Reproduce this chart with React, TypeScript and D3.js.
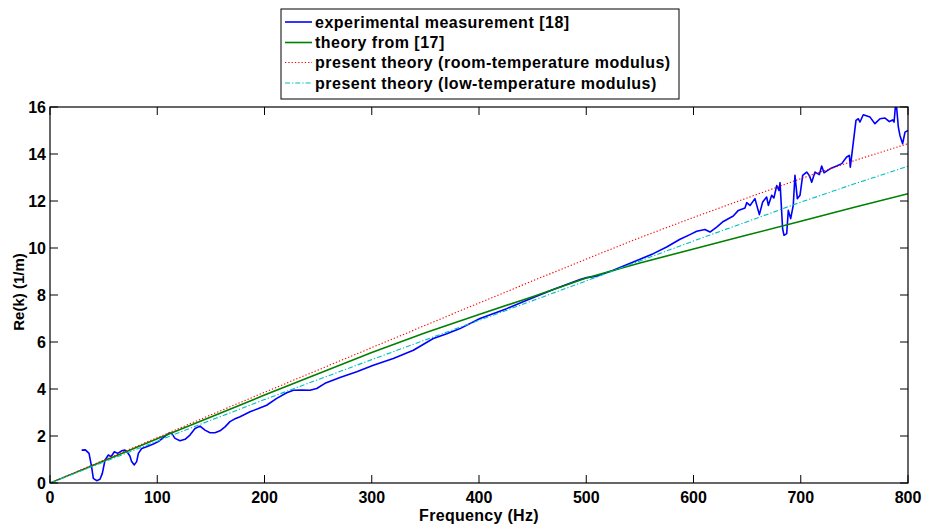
import React from "react";
import * as d3 from "d3";

// ---------- data ----------
const theoryFreq = [0, 50, 100, 150, 200, 250, 300, 350, 400, 450, 500, 550, 600, 650, 700, 750, 800];
const roomTheory = [0, 0.97, 1.93, 2.9, 3.86, 4.81, 5.76, 6.71, 7.66, 8.6, 9.53, 10.44, 11.3, 12.13, 12.95, 13.72, 14.44];
const lowTheory = [0, 0.89, 1.78, 2.67, 3.55, 4.4, 5.25, 6.09, 6.92, 7.76, 8.6, 9.45, 10.3, 11.12, 11.95, 12.73, 13.48];
const theory17 = [0, 0.94, 1.88, 2.81, 3.74, 4.65, 5.55, 6.39, 7.17, 7.93, 8.72, 9.36, 9.96, 10.55, 11.14, 11.73, 12.31];

const expFreq = [
  29.5, 33, 36.4, 38.8, 40.4, 43.5, 46.6, 48.8, 51.3, 54.4, 56.9, 60, 63.1, 66.8, 69.9, 72.4, 74.5, 76.1, 78.6, 80.8,
  82.4, 85.5, 90.1, 96.4, 101, 104.8, 108, 111.6, 113.4, 116.6, 121.2, 125.9, 130.5, 135.2, 139.9, 144.5, 149.2, 153.8,
  158.5, 163.2, 167.8, 172, 177.2, 186.5, 195, 202, 211.4, 220.7, 226.9, 235, 242.4, 248.7, 256.4, 270.4, 286, 301.5,
  320.1, 338.8, 357.4, 370, 382.3, 400.9, 425.8, 444.5, 469.3, 494.2, 500.4, 509.7, 525.2, 543.9, 562.5, 575, 587.4,
  596.7, 603, 610.7, 615.4, 621.6, 627.8, 637.1, 641.8, 648, 649.6, 652.7, 657.3, 661.4, 664.5, 668.2, 669.8, 672.9,
  675, 677.6, 679.7, 680.7, 683.1, 684.4, 686.9, 688.4, 690.6, 693, 694.6, 696.8, 699.3, 701.8, 705.5, 708, 710.2,
  713.3, 717.3, 719.5, 721.7, 727.3, 733.5, 738.2, 742.8, 745.3, 746.2, 751.5, 753.7, 755.2, 758.3, 764.6, 769.2,
  773.9, 778.6, 782.6, 785.7, 787, 788.8, 791, 792.5, 795, 797.2, 800,
];
const expK = [
  1.4, 1.41, 1.26, 0.69, 0.2, 0.1, 0.16, 0.41, 0.98, 1.19, 1.12, 1.33, 1.26, 1.37, 1.4, 1.29, 1.15, 0.91, 0.77, 0.91,
  1.26, 1.47, 1.54, 1.66, 1.76, 1.9, 2.02, 2.13, 2.11, 1.9, 1.8, 1.86, 2.04, 2.32, 2.42, 2.25, 2.14, 2.14,
  2.22, 2.39, 2.61, 2.72, 2.82, 3.03, 3.18, 3.31, 3.6, 3.84, 3.95, 3.96, 3.95, 4.02, 4.24, 4.49, 4.73, 5.01,
  5.3, 5.65, 6.15, 6.35, 6.57, 7.0, 7.42, 7.78, 8.23, 8.66, 8.74, 8.8, 9.05, 9.4, 9.76, 10.04, 10.37,
  10.57, 10.71, 10.79, 10.68, 10.89, 11.13, 11.36, 11.6, 11.7, 11.93, 11.81, 12.1, 11.42, 11.96, 12.17, 11.81, 12.24,
  12.13, 12.66, 12.45, 12.78, 10.82, 10.54, 10.61, 11.6, 11.25, 11.81, 13.09, 12.1, 12.24, 13.09, 13.23, 13.09, 12.8,
  13.23, 13.12, 13.49, 13.2, 13.37, 13.49, 13.59, 13.87, 13.94, 13.44, 15.43, 15.5, 15.36, 15.67, 15.57, 15.29,
  15.5, 15.53, 15.38, 15.45, 15.36, 16.3, 15.14, 14.79, 14.44, 14.93, 15.0,
];

const xTicks = [0, 100, 200, 300, 400, 500, 600, 700, 800];
const yTicks = [0, 2, 4, 6, 8, 10, 12, 14, 16];

const legendLabels = [
  "experimental measurement [18]",
  "theory from [17]",
  "present theory (room-temperature modulus)",
  "present theory (low-temperature modulus)",
];

// ---------- layout ----------
const W = 925;
const H = 528;
const left = 50;
const right = 908;
const top = 107;
const bottom = 483;
const font = "'Liberation Sans', Arial, Helvetica, sans-serif";

export default function App() {
  const x = d3.scaleLinear().domain([0, 800]).range([left, right]);
  const y = d3.scaleLinear().domain([0, 16]).range([bottom, top]);

  const line = d3
    .line<[number, number]>()
    .x((d) => x(d[0]))
    .y((d) => y(d[1]));

  const zip = (a: number[], b: number[]) => a.map((v, i) => [v, b[i]] as [number, number]);

  const series = [
    { d: zip(expFreq, expK), color: "#0000FF", w: 1.6, dash: undefined as string | undefined },
    { d: zip(theoryFreq, theory17), color: "#008000", w: 1.6, dash: undefined },
    { d: zip(theoryFreq, roomTheory), color: "#FF0000", w: 1.1, dash: "1.3 2" },
    { d: zip(theoryFreq, lowTheory), color: "#00BFBF", w: 1.1, dash: "5 2 1.3 2" },
  ];

  const tickLen = 8;
  const lx0 = 281, ly0 = 9, lx1 = 679, ly1 = 99;
  const rowY = [22, 42.5, 62.5, 83];

  return (
    <svg width={W} height={H} style={{ position: "absolute", left: 0, top: 0, background: "#fff" }}>
      <defs>
        <clipPath id="plot">
          <rect x={left} y={top} width={right - left} height={bottom - top} />
        </clipPath>
      </defs>
      <rect x={0} y={0} width={W} height={H} fill="#fff" />
      <g clipPath="url(#plot)">
        {series.map((s, i) => (
          <path key={i} d={line(s.d) || ""} fill="none" stroke={s.color} strokeWidth={s.w}
            strokeDasharray={s.dash} strokeLinejoin="round" />
        ))}
      </g>
      {/* axes box */}
      <rect x={left} y={top} width={right - left} height={bottom - top} fill="none" stroke="#000" strokeWidth={1.2} />
      {xTicks.map((t) => (
        <g key={"x" + t}>
          <line x1={x(t)} x2={x(t)} y1={bottom} y2={bottom - tickLen} stroke="#000" />
          <line x1={x(t)} x2={x(t)} y1={top} y2={top + tickLen} stroke="#000" />
          <text x={x(t)} y={503} textAnchor="middle" fontFamily={font} fontWeight="bold" fontSize={16}>{t}</text>
        </g>
      ))}
      {yTicks.map((t) => (
        <g key={"y" + t}>
          <line x1={left} x2={left + tickLen} y1={y(t)} y2={y(t)} stroke="#000" />
          <line x1={right} x2={right - tickLen} y1={y(t)} y2={y(t)} stroke="#000" />
          <text x={46} y={y(t) + 5.5} textAnchor="end" fontFamily={font} fontWeight="bold" fontSize={16}>{t}</text>
        </g>
      ))}
      <text x={479} y={521} textAnchor="middle" fontFamily={font} fontWeight="bold" fontSize={16} letterSpacing={0.3}>
        Frequency (Hz)
      </text>
      <text transform={`translate(24,292) rotate(-90)`} textAnchor="middle" fontFamily={font} fontWeight="bold" fontSize={15}>
        Re(k) (1/m)
      </text>
      {/* legend */}
      <rect x={lx0} y={ly0} width={lx1 - lx0} height={ly1 - ly0} fill="#fff" stroke="#000" strokeWidth={1} />
      {legendLabels.map((lab, i) => (
        <g key={lab}>
          <line x1={285} x2={312} y1={rowY[i]} y2={rowY[i]} stroke={series[i].color}
            strokeWidth={series[i].w} strokeDasharray={series[i].dash} />
          <text x={315} y={rowY[i] + 5.5} fontFamily={font} fontWeight="bold" fontSize={16} letterSpacing={0.5}>{lab}</text>
        </g>
      ))}
    </svg>
  );
}
